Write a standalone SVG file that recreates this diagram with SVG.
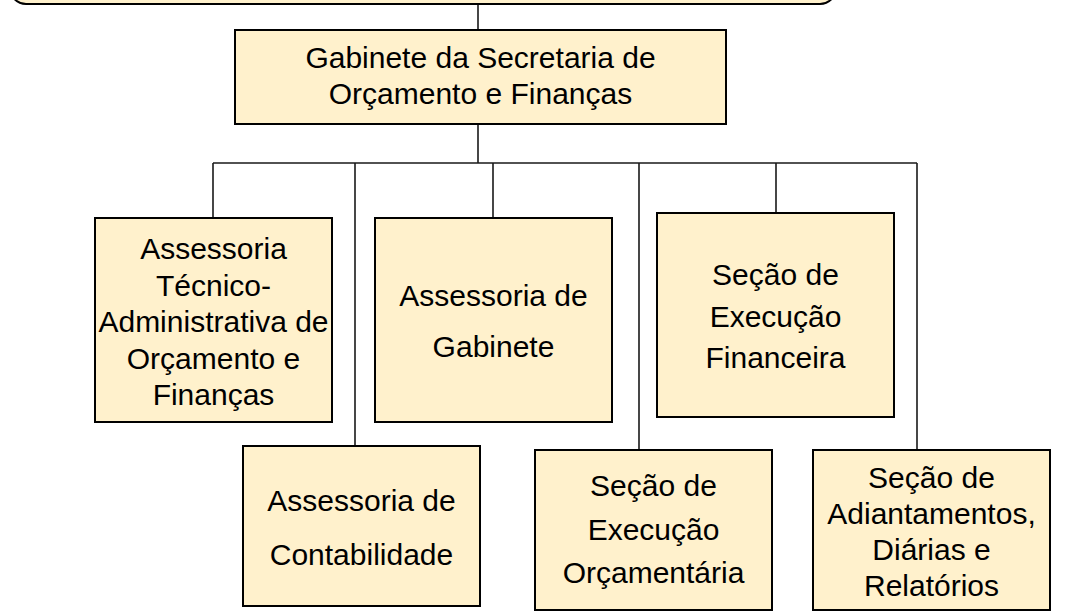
<svg xmlns="http://www.w3.org/2000/svg" width="1065" height="612" viewBox="0 0 1065 612">
<style>
.box{fill:#FFF1CC;stroke:#000;stroke-width:2}
.ln{fill:none;stroke:#1a1a1a;stroke-width:1.6}
text{font-family:"Liberation Sans",Arial,sans-serif;font-size:30px;fill:#000;text-anchor:middle}
</style>
<rect width="1065" height="612" fill="#fff"/>
<g id="connectors">
<path class="ln" d="M478 4V30M478 124V163M213 163H917M213 163V218M355 163V446M493 163V218M639 163V450M776 163V213M917 163V450"/>
</g>
<g id="top">
<rect class="box" x="10" y="-40" width="826" height="44" rx="16"/>
</g>
<g id="main">
<rect class="box" x="235" y="30" width="491" height="94"/>
<text x="480.5" y="68">Gabinete da Secretaria de</text>
<text x="480.5" y="104">Orçamento e Finanças</text>
</g>
<g id="n1">
<rect class="box" x="95" y="218" width="237" height="204"/>
<text x="213.5" y="259">Assessoria</text>
<text x="213.5" y="295.5">Técnico-</text>
<text x="213.5" y="332">Administrativa de</text>
<text x="213.5" y="368.5">Orçamento e</text>
<text x="213.5" y="405">Finanças</text>
</g>
<g id="n2">
<rect class="box" x="375" y="218" width="237" height="204"/>
<text x="493.5" y="306">Assessoria de</text>
<text x="493.5" y="357">Gabinete</text>
</g>
<g id="n3">
<rect class="box" x="657" y="213" width="237" height="204"/>
<text x="775.5" y="285">Seção de</text>
<text x="775.5" y="326.5">Execução</text>
<text x="775.5" y="368">Financeira</text>
</g>
<g id="n4">
<rect class="box" x="243" y="446" width="237" height="160"/>
<text x="361.5" y="511">Assessoria de</text>
<text x="361.5" y="565">Contabilidade</text>
</g>
<g id="n5">
<rect class="box" x="535" y="450" width="237" height="160"/>
<text x="653.5" y="496">Seção de</text>
<text x="653.5" y="539.5">Execução</text>
<text x="653.5" y="583">Orçamentária</text>
</g>
<g id="n6">
<rect class="box" x="813" y="450" width="237" height="160"/>
<text x="931.5" y="488">Seção de</text>
<text x="931.5" y="524">Adiantamentos,</text>
<text x="931.5" y="560">Diárias e</text>
<text x="931.5" y="596">Relatórios</text>
</g>
</svg>
